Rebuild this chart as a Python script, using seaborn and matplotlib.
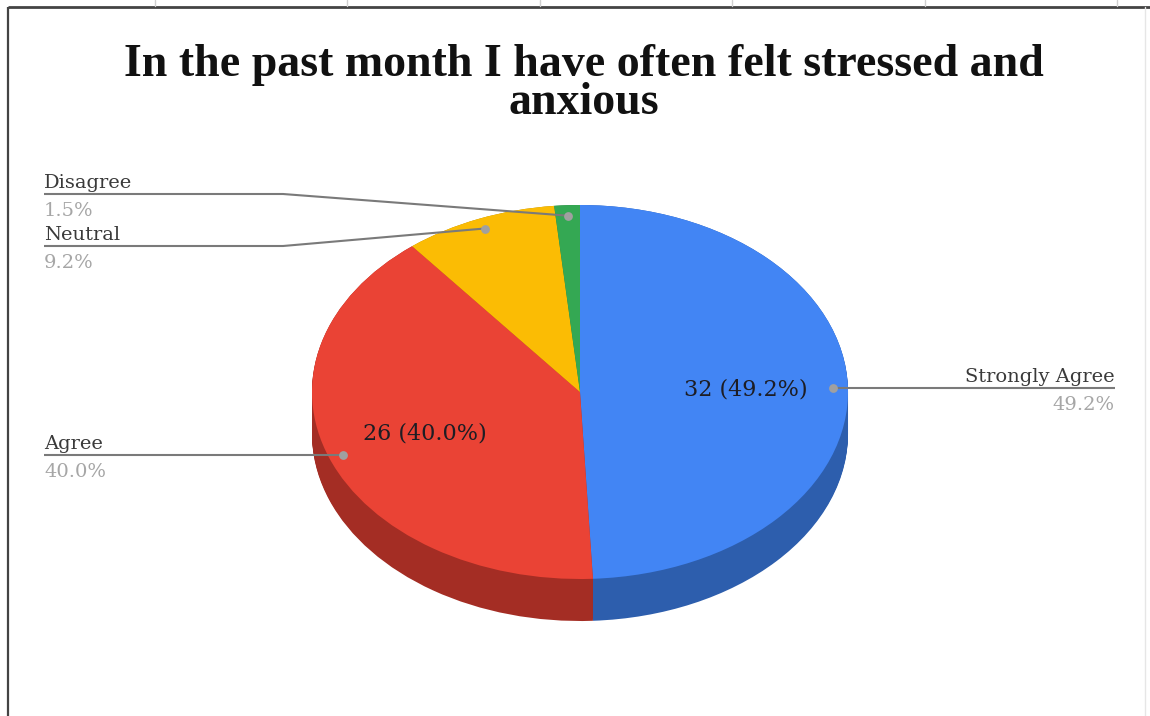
import numpy as np
import matplotlib
matplotlib.use("Agg")
import matplotlib.pyplot as plt
import seaborn as sns

# ---- data ----
categories = ["Strongly Agree", "Agree", "Neutral", "Disagree"]
counts = [32, 26, 6, 1]
top_colors = ["#4285F4", "#EA4335", "#FBBC04", "#34A853"]
side_colors = ["#2D5EAD", "#A42D24", "#B08400", "#23763A"]
title_lines = ["In the past month I have often felt stressed and", "anxious"]

sns.set_theme(style="white")
plt.rcParams["font.family"] = ["DejaVu Serif"]

W, H = 1150, 716
fig = plt.figure(figsize=(W / 100, H / 100), dpi=100)
fig.patch.set_facecolor("white")

# pie geometry (pixels)
cx, cy, rx, ry, depth = 580, 392, 268, 187, 42
depth_u = depth / ry

pax = fig.add_axes([(cx - rx) / W, (H - (cy + ry + depth)) / H, 2 * rx / W, (2 * ry + depth) / H])
total = sum(counts)
fr = [c / total for c in counts]

nlayers = 42
for d in np.linspace(depth_u, 0, nlayers):
    pax.pie(counts, colors=side_colors, startangle=90, counterclock=False,
            center=(0, -d), radius=1, wedgeprops=dict(linewidth=0, antialiased=True))
pax.pie(counts, colors=top_colors, startangle=90, counterclock=False,
        center=(0, 0), radius=1, wedgeprops=dict(linewidth=0, antialiased=True))
pax.set_aspect("auto")
pax.set_xlim(-1, 1)
pax.set_ylim(-1 - depth_u, 1)
pax.axis("off")

# overlay in pixel coordinates
ov = fig.add_axes([0, 0, 1, 1])
ov.set_xlim(0, W)
ov.set_ylim(H, 0)
ov.axis("off")

# frame of the screenshot
ov.plot([8, W], [7, 7], color="#444444", lw=2, solid_capstyle="butt")
ov.plot([8, 8], [7, H], color="#444444", lw=1.6, solid_capstyle="butt")
ov.plot([1145, 1145], [7, H], color="#e6e6e6", lw=1)
for gx in [155, 347, 540, 732, 925, 1117]:
    ov.plot([gx, gx], [0, 6], color="#d0d0d0", lw=1)

# title (two lines, tight spacing)
ov.text(584, 44, "\n".join(title_lines), ha="center", va="top", multialignment="center",
        fontsize=33, fontweight="bold", family="Liberation Serif", color="#111111",
        linespacing=0.88)

# anchor points from slice geometry
cum = np.cumsum([0] + fr)
mids = [(cum[i] + cum[i + 1]) / 2 * 360 for i in range(len(fr))]

def pt(ang, r):
    a = np.deg2rad(ang)
    return cx + rx * r * np.sin(a), cy - ry * r * np.cos(a)

line_c = "#7a7a7a"
dot_c = "#a0a0a0"
name_c = "#3a3a3a"
pct_c = "#a6a6a6"
fs = 14

# label layout: (side, line_y, knee_x, text_x)
layouts = {
    "Strongly Agree": ("right", None, None, 1115),
    "Agree": ("left", None, None, 44),
    "Neutral": ("left", 246, 283, 44),
    "Disagree": ("left", 194, 283, 44),
}
for i, cat in enumerate(categories):
    dx, dy = pt(mids[i], 0.944)
    side, ly, kx, tx = layouts[cat]
    if ly is None:
        ly = dy
        xs, ys = [dx, tx], [dy, dy]
    else:
        xs, ys = [dx, kx, tx], [dy, ly, ly]
    ov.plot(xs, ys, color=line_c, lw=1.5, solid_capstyle="butt")
    ov.scatter([dx], [dy], s=40, color=dot_c, zorder=5, linewidths=0)
    ha = "left" if side == "left" else "right"
    ov.text(tx, ly - 6, cat, ha=ha, va="baseline", fontsize=fs, color=name_c)
    ov.text(tx, ly + 22, f"{fr[i] * 100:.1f}%", ha=ha, va="baseline", fontsize=fs, color=pct_c)

# value labels inside large slices
for i, c in enumerate(counts):
    if fr[i] > 0.2:
        x, y = pt(mids[i], 0.62)
        ov.text(x, y, f"{c} ({fr[i] * 100:.1f}%)", ha="center", va="center",
                fontsize=16, color="#1d1d24")

fig.savefig("out.png", dpi=100, facecolor="white")
